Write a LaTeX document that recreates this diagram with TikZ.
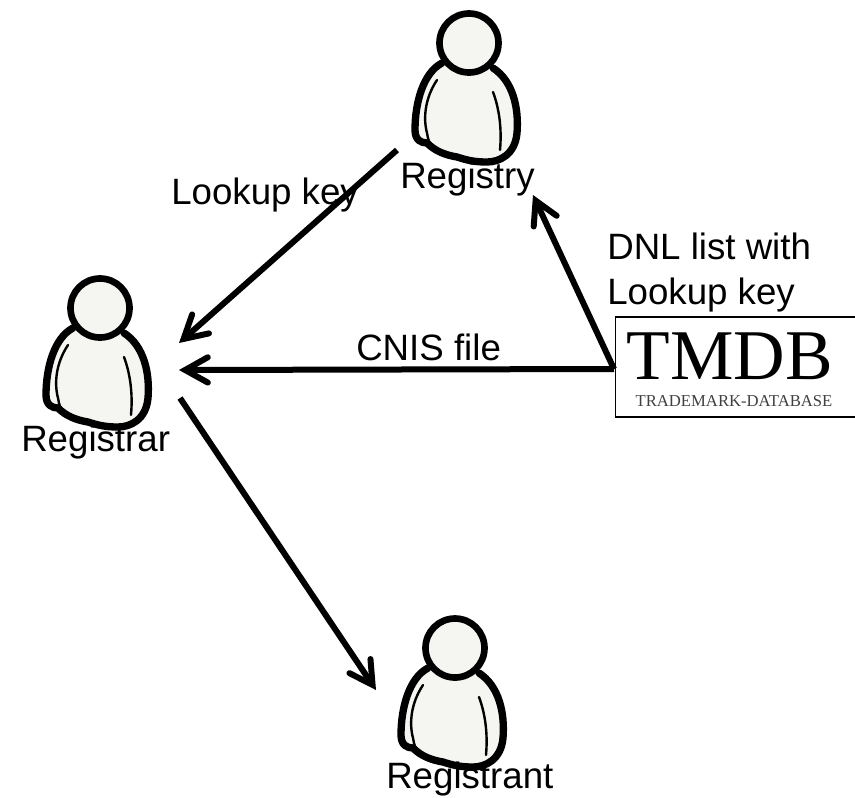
\documentclass[tikz,border=0pt]{standalone}
\usepackage{fontspec}
\setmainfont{Liberation Sans}
\newfontfamily\logofont{Liberation Serif}
\usetikzlibrary{arrows.meta}
\definecolor{personfill}{RGB}{245,245,241}
\tikzset{
  x=0.75pt,y=-0.75pt,
  lbl/.style={font=\fontsize{27.5}{32}\selectfont,text=black,inner sep=0pt,anchor=base west},
  conn/.style={draw=black,line width=4.5pt,-{Straight Barb[length=17pt,width=19pt,line width=4.5pt,line cap=round,line join=miter]}},
  person/.pic={
    \fill[personfill] (-27,20) .. controls (-46,30) and (-54,60) .. (-54,87)
      .. controls (-54,97) and (-48,100) .. (-42,100) .. controls (-34,108) and (-24,112) .. (-12,114)
      .. controls (0,118) and (8,119) .. (18,119) .. controls (30,119) and (46,112) .. (48,90)
      .. controls (50,65) and (44,38) .. (24,25) -- cycle;
    \draw[black,line width=5.5pt,line join=round,line cap=round] (-27,20) .. controls (-46,30) and (-54,60) .. (-54,87)
      .. controls (-54,97) and (-48,100) .. (-42,100) .. controls (-34,108) and (-24,112) .. (-12,114)
      .. controls (0,118) and (8,119) .. (18,119) .. controls (30,119) and (46,112) .. (48,90)
      .. controls (50,65) and (44,38) .. (24,25);
    \draw[black,line width=1.8pt,line cap=round] (-32,37) .. controls (-44,55) and (-46,75) .. (-42,90) .. controls (-41,97) and (-39,102) .. (-36,104);
    \draw[black,line width=1.8pt,line cap=round] (24,49) .. controls (30,65) and (33,85) .. (31,107);
    \draw[black,line width=5pt,fill=personfill] (0,0) circle (29.5);
  }
}
\begin{document}
\begin{tikzpicture}
\useasboundingbox (0,0) rectangle (855,797);
\pic at (469,43) {person};
\pic at (100,308) {person};
\pic at (455,648) {person};
\node[lbl] (registrylbl) at (400,188) {Registry};
\node[lbl] (registrarlbl) at (21,451) {Registrar};
\node[lbl] (registrantlbl) at (386,788.5) {Registrant};
\node[lbl] (lookuplbl) at (171,204) {Lookup key};
\node[lbl] (cnislbl) at (356,360) {CNIS file};
\node[lbl] (dnl1) at (607,259) {DNL list with};
\node[lbl] (dnl2) at (607,304) {Lookup key};
\node[draw=black,line width=1.4pt,fill=white,minimum width=192pt,minimum height=75pt,inner sep=0pt,anchor=north west] (tmdb) at (614.5,316) {};
\node[inner sep=0pt,anchor=base,font=\logofont\fontsize{53.5}{60}\selectfont,text=black] (tmdbtitle) at (730,379) {TMDB};
\node[inner sep=0pt,anchor=base,font=\logofont\fontsize{12.5}{14}\selectfont,text=black!75] (tmdbsub) at (734,406) {TRADEMARK-DATABASE};
\coordinate (registryout) at (397,150);
\coordinate (registryin) at (533,195);
\coordinate (registrarin1) at (179,343);
\coordinate (registrarin2) at (179,370);
\coordinate (registrarout) at (180,398);
\coordinate (registrantin) at (376,690);
\coordinate (tmdbw) at (614,369);
\draw[conn] (registryout) -- (registrarin1);
\draw[conn] (tmdbw) -- (registryin);
\draw[conn] (tmdbw) -- (registrarin2);
\draw[conn] (registrarout) -- (registrantin);
\end{tikzpicture}
\end{document}
